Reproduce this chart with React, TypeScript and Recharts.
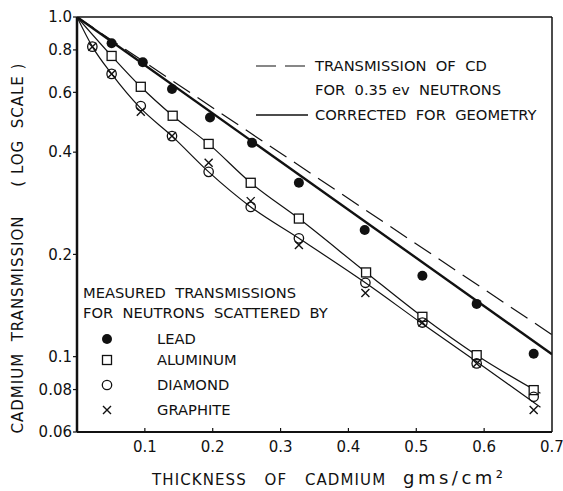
import * as React from "react";
import {
  ComposedChart,
  Line,
  Scatter,
  XAxis,
  YAxis,
  ReferenceLine,
} from "recharts";

// thickness of cadmium (gms/cm2) where transmissions were measured
const leadX = [0.051, 0.097, 0.14, 0.196, 0.258, 0.327, 0.424, 0.509, 0.589, 0.673];
const leadY = [0.837, 0.736, 0.614, 0.506, 0.426, 0.325, 0.236, 0.173, 0.143, 0.102];

const aluminumX = [0.051, 0.094, 0.141, 0.194, 0.256, 0.327, 0.426, 0.509, 0.589, 0.673];
const aluminumY = [0.768, 0.623, 0.512, 0.423, 0.325, 0.255, 0.177, 0.131, 0.101, 0.0797];

const diamondX = [0.0226, 0.051, 0.094, 0.14, 0.194, 0.256, 0.327, 0.425, 0.509, 0.589, 0.673];
const diamondY = [0.818, 0.68, 0.547, 0.446, 0.35, 0.276, 0.223, 0.165, 0.126, 0.0955, 0.0762];

const graphiteX = [0.0226, 0.051, 0.094, 0.14, 0.194, 0.256, 0.327, 0.425, 0.509, 0.589, 0.673];
const graphiteY = [0.818, 0.68, 0.526, 0.446, 0.372, 0.287, 0.213, 0.154, 0.126, 0.0955, 0.0696];

// fitted curves
const alCurveX = [0, 0.051, 0.094, 0.141, 0.194, 0.256, 0.327, 0.426, 0.509, 0.589, 0.683];
const alCurveY = [1, 0.768, 0.623, 0.512, 0.423, 0.325, 0.255, 0.177, 0.131, 0.101, 0.078];

const cCurveX = [0, 0.0226, 0.051, 0.094, 0.14, 0.194, 0.256, 0.327, 0.425, 0.509, 0.589, 0.683];
const cCurveY = [1, 0.818, 0.68, 0.538, 0.446, 0.35, 0.276, 0.223, 0.165, 0.125, 0.0966, 0.071];

// straight lines on the log scale
const cdX = [0, 0.7];
const cdY = [1, 0.116];
const geomX = [0, 0.7];
const geomY = [1, 0.1016];

const xTicks = [0.1, 0.2, 0.3, 0.4, 0.5, 0.6, 0.7];
const yTicks = [0.06, 0.08, 0.1, 0.2, 0.4, 0.6, 0.8, 1];

const zip = (xs: number[], ys: number[]) => xs.map((x, i) => ({ x, y: ys[i] }));

const INK = "#111";
const FONT = "'DejaVu Sans', sans-serif";

const Dot = (p: any) => <circle cx={p.cx} cy={p.cy} r={5} fill={INK} />;
const Sq = (p: any) => (
  <rect x={p.cx - 4.5} y={p.cy - 4.5} width={9} height={9} fill="#fff" stroke={INK} strokeWidth={1.3} />
);
const Ring = (p: any) => <circle cx={p.cx} cy={p.cy} r={4.7} fill="none" stroke={INK} strokeWidth={1.3} />;
const Cross = (p: any) => (
  <path
    d={`M${p.cx - 4},${p.cy - 4}L${p.cx + 4},${p.cy + 4}M${p.cx + 4},${p.cy - 4}L${p.cx - 4},${p.cy + 4}`}
    stroke={INK}
    strokeWidth={1.4}
  />
);

const XTick = (p: any) => {
  const v = p.payload.value;
  return (
    <g>
      {v < 0.7 && <line x1={p.x} x2={p.x} y1={p.y - 4} y2={p.y} stroke={INK} strokeWidth={1.2} />}
      <text x={p.x} y={p.y + 20} textAnchor="middle" fontSize={15} fontFamily={FONT} fill={INK}>
        {v.toFixed(1)}
      </text>
    </g>
  );
};

const txt: React.CSSProperties = {
  position: "absolute",
  fontFamily: FONT,
  fontSize: 14.7,
  color: INK,
  whiteSpace: "pre",
  lineHeight: "16px",
  letterSpacing: 0,
};

function MarkerIcon({ kind }: { kind: string }) {
  const c = 7;
  return (
    <svg width={14} height={14} style={{ position: "absolute", left: 100, top: -7 }}>
      {kind === "lead" && <Dot cx={c} cy={c} />}
      {kind === "al" && <Sq cx={c} cy={c} />}
      {kind === "dia" && <Ring cx={c} cy={c} />}
      {kind === "gr" && <Cross cx={c} cy={c} />}
    </svg>
  );
}

const legendRows = [
  { kind: "lead", label: "LEAD", y: 339 },
  { kind: "al", label: "ALUMINUM", y: 360 },
  { kind: "dia", label: "DIAMOND", y: 385 },
  { kind: "gr", label: "GRAPHITE", y: 410 },
];

export default function App() {
  return (
    <div style={{ position: "absolute", left: 0, top: 0, width: 563, height: 491, background: "#fff" }}>
      <ComposedChart width={563} height={491} margin={{ top: 17, right: 11, left: 0, bottom: 0 }}>
        <XAxis
          type="number"
          dataKey="x"
          domain={[0, 0.7]}
          ticks={xTicks}
          allowDataOverflow
          height={59}
          tickSize={0}
          tickMargin={0}
          tickLine={false}
          tick={<XTick />}
          axisLine={{ stroke: INK, strokeWidth: 2 }}
        />
        <YAxis
          type="number"
          dataKey="y"
          scale="log"
          domain={[0.06, 1]}
          ticks={yTicks}
          allowDataOverflow
          width={77}
          tickSize={4}
          tickMargin={1}
          tickFormatter={(v: number) => (v === 1 ? "1.0" : String(v))}
          tick={{ fontSize: 15, fontFamily: FONT, fill: INK }}
          tickLine={{ stroke: INK, strokeWidth: 1.2 }}
          axisLine={{ stroke: INK, strokeWidth: 2.5 }}
        />
        <ReferenceLine y={1} stroke={INK} strokeWidth={1.5} ifOverflow="visible" />
        <ReferenceLine x={0.7} stroke={INK} strokeWidth={1.5} ifOverflow="visible" />
        <Line data={zip(cdX, cdY)} dataKey="y" type="linear" stroke={INK} strokeWidth={1.2} strokeDasharray="20 9" dot={false} isAnimationActive={false} />
        <Line data={zip(geomX, geomY)} dataKey="y" type="linear" stroke={INK} strokeWidth={2.4} dot={false} isAnimationActive={false} />
        <Line data={zip(alCurveX, alCurveY)} dataKey="y" type="monotone" stroke={INK} strokeWidth={1.2} dot={false} isAnimationActive={false} />
        <Line data={zip(cCurveX, cCurveY)} dataKey="y" type="monotone" stroke={INK} strokeWidth={1.2} dot={false} isAnimationActive={false} />
        <Scatter data={zip(leadX, leadY)} dataKey="y" shape={Dot} isAnimationActive={false} />
        <Scatter data={zip(aluminumX, aluminumY)} dataKey="y" shape={Sq} isAnimationActive={false} />
        <Scatter data={zip(diamondX, diamondY)} dataKey="y" shape={Ring} isAnimationActive={false} />
        <Scatter data={zip(graphiteX, graphiteY)} dataKey="y" shape={Cross} isAnimationActive={false} />
      </ComposedChart>

      {/* top-right legend */}
      <svg width={60} height={60} style={{ position: "absolute", left: 252, top: 56 }}>
        <line x1={4} x2={56} y1={10} y2={10} stroke={INK} strokeWidth={1.2} strokeDasharray="20 9" />
        <line x1={4} x2={56} y1={59} y2={59} stroke={INK} strokeWidth={1.4} />
      </svg>
      <div style={{ ...txt, left: 315, top: 58 }}>TRANSMISSION  OF  CD</div>
      <div style={{ ...txt, left: 315, top: 82 }}>FOR  0.35 ev  NEUTRONS</div>
      <div style={{ ...txt, left: 315, top: 107 }}>CORRECTED  FOR  GEOMETRY</div>

      {/* bottom-left legend */}
      <div style={{ ...txt, left: 83, top: 285 }}>MEASURED  TRANSMISSIONS</div>
      <div style={{ ...txt, left: 83, top: 305 }}>FOR  NEUTRONS  SCATTERED  BY</div>
      {legendRows.map((r) => (
        <div key={r.kind} style={{ position: "absolute", left: 0, top: r.y, width: 300 }}>
          <MarkerIcon kind={r.kind} />
          <div style={{ ...txt, left: 157, top: -8 }}>{r.label}</div>
        </div>
      ))}

      {/* axis titles */}
      <div
        style={{
          ...txt,
          fontSize: 15,
          letterSpacing: 1,
          left: 18,
          top: 248,
          transform: "translate(-50%, -50%) rotate(-90deg)",
        }}
      >
        CADMIUM  TRANSMISSION     ( LOG  SCALE )
      </div>
      <div style={{ ...txt, fontSize: 15, letterSpacing: 1.1, wordSpacing: 3, left: 152, top: 472 }}>
        THICKNESS  OF  CADMIUM
      </div>
      <div style={{ ...txt, fontSize: 18, letterSpacing: 3.5, left: 403, top: 470 }}>gms/cm²</div>
    </div>
  );
}
